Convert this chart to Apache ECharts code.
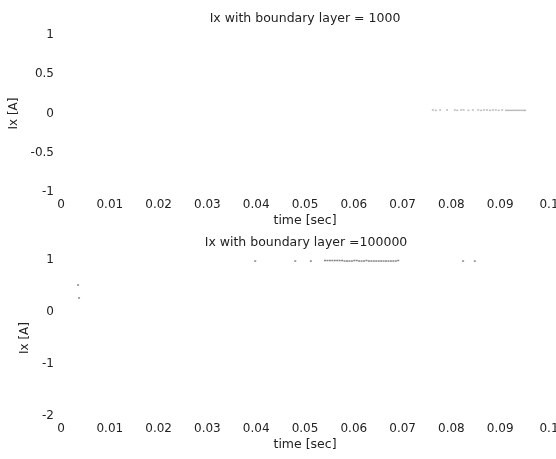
<!DOCTYPE html>
<html>
<head>
<meta charset="utf-8">
<script src="https://cdn.jsdelivr.net/npm/echarts@6/dist/echarts.min.js"></script>
<style>
html,body{margin:0;padding:0;background:#fff;}
#c{width:556px;height:459px;}
</style>
</head>
<body>
<div id="c"></div>
<script>
// ---- data ----
var xTicks = [0, 0.01, 0.02, 0.03, 0.04, 0.05, 0.06, 0.07, 0.08, 0.09, 0.1];
var topTitle = 'Ix with boundary layer = 1000';
var bottomTitle = 'Ix with boundary layer =100000';
var xName = 'time [sec]';
var yName = 'Ix [A]';

var topTime = [0.0762, 0.0768, 0.0777, 0.0791, 0.0807, 0.0812, 0.0820, 0.0825, 0.0835, 0.0844,
               0.0855, 0.0861, 0.0867, 0.0873, 0.0879, 0.0885, 0.0891, 0.0897, 0.0904,
               0.0912, 0.0916, 0.0920, 0.0924, 0.0928, 0.0932, 0.0936, 0.0940, 0.0944, 0.0948, 0.0951];
var topIx   = [0.045, 0.04, 0.045, 0.045, 0.045, 0.04, 0.045, 0.045, 0.04, 0.045,
               0.045, 0.04, 0.045, 0.045, 0.04, 0.045, 0.045, 0.04, 0.045,
               0.04, 0.04, 0.04, 0.04, 0.04, 0.04, 0.04, 0.04, 0.04, 0.04, 0.04];

var bottomTime = [0.0035, 0.0037, 0.0398, 0.0480, 0.0512,
                  0.0541, 0.0546, 0.0551, 0.0556, 0.0561, 0.0566, 0.0571, 0.0576, 0.0581, 0.0586,
                  0.0591, 0.0596, 0.0601, 0.0606, 0.0611, 0.0616, 0.0621, 0.0626, 0.0631, 0.0636,
                  0.0641, 0.0646, 0.0651, 0.0656, 0.0661, 0.0666, 0.0671, 0.0676, 0.0681, 0.0686, 0.0691,
                  0.0824, 0.0848];
var bottomIx   = [0.52, 0.27, 0.98, 0.98, 0.98,
                  0.99, 0.99, 0.99, 0.99, 0.99, 0.99, 0.99, 0.99, 0.98, 0.98,
                  0.98, 0.98, 0.99, 0.99, 0.98, 0.98, 0.98, 0.99, 0.98, 0.98,
                  0.98, 0.98, 0.98, 0.98, 0.98, 0.98, 0.98, 0.98, 0.98, 0.98, 0.99,
                  0.98, 0.98];

// ---- build ----
function pairs(xs, ys){ var out=[]; for(var i=0;i<xs.length;i++) out.push([xs[i], ys[i]]); return out; }
var FONT = 'DejaVu Sans';
var TXT = '#222';
function xAxisCfg(gi){
  return {
    gridIndex: gi, type: 'value', min: xTicks[0], max: xTicks[xTicks.length-1], interval: 0.01,
    axisLine: {show:false}, axisTick: {show:false}, splitLine: {show:false},
    axisLabel: {color: TXT, fontFamily: FONT, fontSize: 12, margin: 7,
      alignMinLabel: 'center', alignMaxLabel: 'center', hideOverlap: false,
      formatter: function(v){ return String(+v.toFixed(2)); }},
    name: xName, nameLocation: 'middle', nameGap: 22,
    nameTextStyle: {color: TXT, fontFamily: FONT, fontSize: 12.5}
  };
}
var chart = echarts.init(document.getElementById('c'), null, {renderer: 'canvas'});
chart.setOption({
  animation: false,
  backgroundColor: '#fff',
  title: [
    {text: topTitle, left: 305, top: 12, textAlign: 'center', padding: 0,
     textStyle: {color: TXT, fontFamily: FONT, fontSize: 12.5, fontWeight: 'normal'}},
    {text: bottomTitle, left: 306, top: 236, textAlign: 'center', padding: 0,
     textStyle: {color: TXT, fontFamily: FONT, fontSize: 12.5, fontWeight: 'normal'}}
  ],
  grid: [
    {left: 61, width: 488, top: 35, height: 157, containLabel: false, outerBoundsMode: 'none'},
    {left: 61, width: 488, top: 260, height: 156, containLabel: false, outerBoundsMode: 'none'}
  ],
  xAxis: [xAxisCfg(0), xAxisCfg(1)],
  yAxis: [
    {gridIndex: 0, type: 'value', min: -1, max: 1, interval: 0.5,
     axisLine: {show:false}, axisTick: {show:false}, splitLine: {show:false},
     axisLabel: {color: TXT, fontFamily: FONT, fontSize: 12, margin: 7, hideOverlap: false},
     name: yName, nameLocation: 'middle', nameGap: 41,
     nameTextStyle: {color: TXT, fontFamily: FONT, fontSize: 12}},
    {gridIndex: 1, type: 'value', min: -2, max: 1, interval: 1,
     axisLine: {show:false}, axisTick: {show:false}, splitLine: {show:false},
     axisLabel: {color: TXT, fontFamily: FONT, fontSize: 12, margin: 7, hideOverlap: false},
     name: yName, nameLocation: 'middle', nameGap: 30,
     nameTextStyle: {color: TXT, fontFamily: FONT, fontSize: 12}}
  ],
  series: [
    {type: 'scatter', xAxisIndex: 0, yAxisIndex: 0, symbol: 'rect', symbolSize: [2,1.5],
     itemStyle: {color: '#aaa'}, data: pairs(topTime, topIx)},
    {type: 'scatter', xAxisIndex: 1, yAxisIndex: 1, symbol: 'rect', symbolSize: [2,1.5],
     itemStyle: {color: '#666'}, data: pairs(bottomTime, bottomIx)}
  ]
});
</script>
</body>
</html>
